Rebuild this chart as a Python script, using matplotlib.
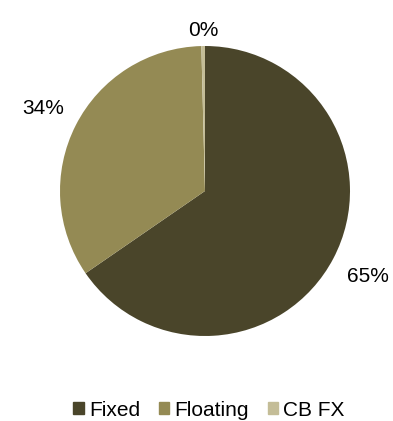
import numpy as np
import matplotlib.pyplot as plt

plt.rcParams['font.family'] = ['Liberation Sans', 'DejaVu Sans']

# datos
categorias = ['Fixed', 'Floating', 'CB FX']
valores = [65.4, 34.2, 0.4]
etiquetas = ['65%', '34%', '0%']
colores = ['#4A452A', '#948A54', '#C4BD97']
dist_etiqueta = [1.27, 1.25, 1.11]

fig = plt.figure(figsize=(3.93, 4.21), dpi=100)
ax = fig.add_axes([60 / 393, 85 / 421, 290 / 393, 290 / 421])

wedges, _ = ax.pie(valores, colors=colores, startangle=90, counterclock=False,
                   radius=1, wedgeprops=dict(linewidth=0))
ax.set_xlim(-1, 1)
ax.set_ylim(-1, 1)
ax.set_aspect('equal')
ax.axis('off')

# etiquetas fuera del pastel
for w, txt, d in zip(wedges, etiquetas, dist_etiqueta):
    ang = np.deg2rad((w.theta1 + w.theta2) / 2)
    ax.text(d * np.cos(ang), d * np.sin(ang), txt, ha='center', va='center',
            fontsize=15, color='#000000', clip_on=False)

handles = [plt.Rectangle((0, 0), 1, 1, color=c) for c in colores]
fig.legend(handles, categorias, loc='center', bbox_to_anchor=(209 / 393, 1 - 410 / 421),
           ncol=3, frameon=False, fontsize=15, handlelength=0.5, handleheight=0.5,
           handletextpad=0.25, columnspacing=0.9)

fig.savefig('out.png', dpi=100)
